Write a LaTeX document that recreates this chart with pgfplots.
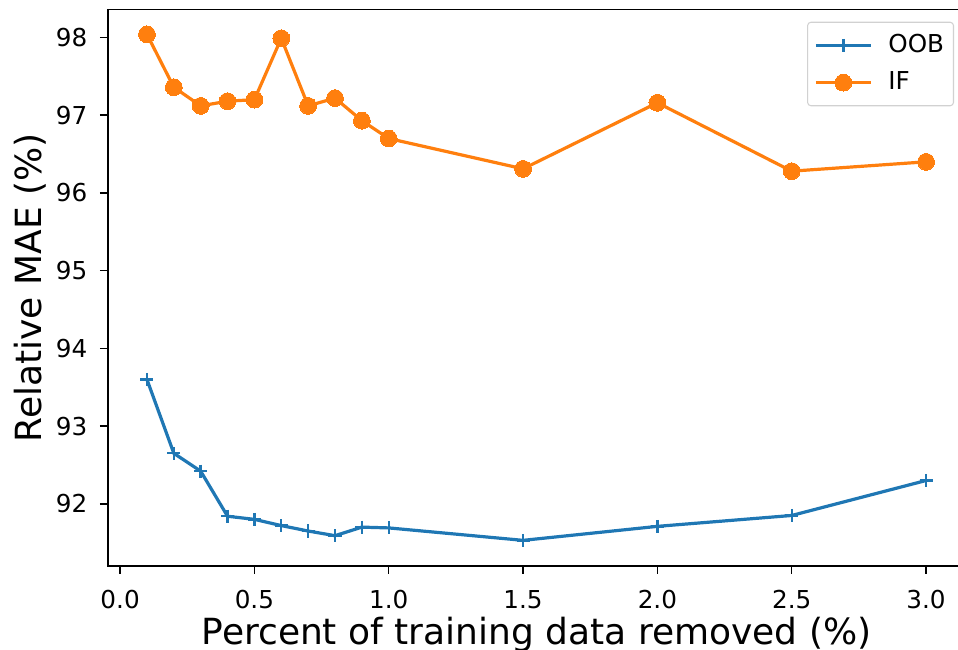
\documentclass[border=0pt]{standalone}
\usepackage{fontspec}
\setmainfont{DejaVu Sans}
\usepackage{pgfplots}
\pgfplotsset{compat=1.18}
\definecolor{cblue}{HTML}{1F77B4}
\definecolor{corange}{HTML}{FF7F0E}
\begin{document}
\begin{tikzpicture}
\begin{axis}[
  at={(0,0)}, anchor=south west,
  scale only axis, width=642.75pt, height=417.375pt,
  xmin=-0.045, xmax=3.145, ymin=91.20, ymax=98.36,
  xtick={0,0.5,1,1.5,2,2.5,3},
  ytick={92,93,94,95,96,97,98},
  tick pos=left, tick align=outside,
  major tick length=6pt,
  axis line style={line width=1.1pt},
  every tick/.style={line width=1.1pt, black},
  /pgf/number format/assume math mode=true,
  ticklabel style={font=\fontsize{18.5}{22}\selectfont},
  xticklabel style={yshift=-8.5pt, /pgf/number format/fixed, /pgf/number format/fixed zerofill, /pgf/number format/precision=1},
  yticklabel style={xshift=-6pt},
  xlabel={Percent of training data removed (\%)},
  ylabel={Relative MAE (\%)},
  label style={font=\fontsize{27}{32}\selectfont},
  xlabel style={at={(axis description cs:0.5,0)}, anchor=base, yshift=-59.25pt},
  ylabel style={at={(axis description cs:-0.0774,0.5)}, anchor=base},
  legend style={at={(axis description cs:0.9872,0.978)}, anchor=north east,
    draw=black!18, line width=0.8pt, rounded corners=2.5pt, fill=white,
    fill opacity=0.8, text opacity=1, font=\fontsize{18.5}{22}\selectfont,
    inner xsep=5pt, inner ysep=5.3pt, row sep=4pt, column sep=10pt,
    nodes={inner xsep=2pt, inner ysep=3pt, text height=14pt, text depth=4pt}},
  legend cell align=left,
  legend image code/.code={\draw[fill opacity=1, draw opacity=1, mark repeat=2,mark phase=2] plot coordinates {(0pt,0pt) (20.6pt,0pt) (41.2pt,0pt)};},
]
\addplot[cblue, line width=2.4pt, mark=+, mark size=4.9pt, mark options={line width=1.8pt}] coordinates {
(0.1,93.60) (0.2,92.65) (0.3,92.42) (0.4,91.84) (0.5,91.80) (0.6,91.72) (0.7,91.65) (0.8,91.59) (0.9,91.70) (1.0,91.69) (1.5,91.53) (2.0,91.71) (2.5,91.85) (3.0,92.30)
};
\addlegendentry{OOB}
\addplot[corange, line width=2.4pt, mark=*, mark size=6.3pt, mark options={line width=0pt, fill opacity=1, draw opacity=1}] coordinates {
(0.1,98.04) (0.2,97.36) (0.3,97.12) (0.4,97.18) (0.5,97.20) (0.6,97.99) (0.7,97.12) (0.8,97.22) (0.9,96.93) (1.0,96.70) (1.5,96.31) (2.0,97.16) (2.5,96.28) (3.0,96.40)
};
\addlegendentry{IF}
\end{axis}
\pgfresetboundingbox
\useasboundingbox (-81pt,-63pt) rectangle (637.5pt,424.5pt);
\end{tikzpicture}
\end{document}
